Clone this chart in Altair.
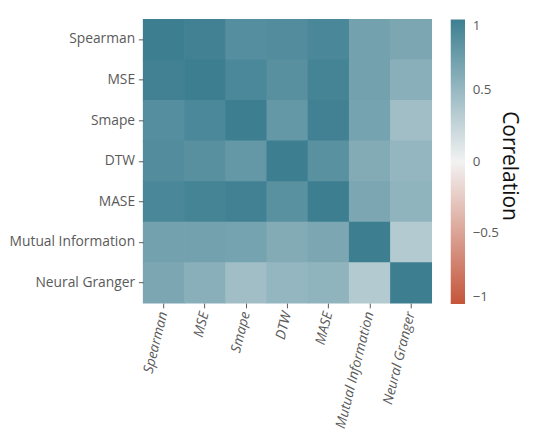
import altair as alt
import pandas as pd

metrics = ["Spearman", "MSE", "Smape", "DTW", "MASE", "Mutual Information", "Neural Granger"]
corr = [
    [1.00, 0.98, 0.87, 0.88, 0.93, 0.70, 0.66],
    [0.98, 1.00, 0.92, 0.85, 0.96, 0.70, 0.58],
    [0.87, 0.92, 1.00, 0.78, 0.98, 0.69, 0.45],
    [0.88, 0.85, 0.78, 1.00, 0.84, 0.62, 0.52],
    [0.93, 0.96, 0.98, 0.84, 1.00, 0.66, 0.54],
    [0.70, 0.70, 0.69, 0.62, 0.66, 1.00, 0.35],
    [0.66, 0.58, 0.45, 0.52, 0.54, 0.35, 1.00],
]
legend_title = "Correlation"

rows = []
for i, r in enumerate(metrics):
    for j, c in enumerate(metrics):
        rows.append({"row": r, "col": c, "value": corr[i][j]})
df = pd.DataFrame(rows)

font = "Open Sans"
lab_color = "#5a5a5a"
heat = alt.Chart(df).mark_rect(width=44.0, height=43.4).encode(
    x=alt.X("col:N", sort=metrics, title=None,
            scale=alt.Scale(type="band", paddingInner=0, paddingOuter=0),
            axis=alt.Axis(labelAngle=-76, labelFontStyle="italic", labelFontSize=14.5,
                          labelColor=lab_color, labelFont=font, domain=False, grid=False,
                          tickColor="#555555", tickSize=5, labelPadding=4)),
    y=alt.Y("row:N", sort=metrics, title=None,
            scale=alt.Scale(type="band", paddingInner=0, paddingOuter=0),
            axis=alt.Axis(labelFontSize=14.5, labelColor=lab_color, labelFont=font,
                          domain=False, grid=False, tickColor="#555555", tickSize=5,
                          labelPadding=4)),
    color=alt.Color("value:Q",
                    scale=alt.Scale(domain=[-1, 0, 1],
                                    range=["#c4553a", "#f2f2f2", "#3d7f91"],
                                    interpolate="rgb"),
                    legend=alt.Legend(title=None, gradientLength=299,
                                      gradientThickness=15, values=[-1, -0.5, 0, 0.5, 1],
                                      format="~g", labelFontSize=14, labelColor=lab_color,
                                      labelFont=font, offset=20, labelOffset=8)),
)

title_txt = alt.Chart(pd.DataFrame({"t": [legend_title]})).mark_text(
    angle=90, fontSize=22, font=font, color="#111111", align="center", baseline="middle"
).encode(x=alt.value(385), y=alt.value(154), text="t:N")

chart = alt.layer(heat, title_txt).properties(
    width=303, height=298,
    padding={"left": 1, "top": 0, "right": 5, "bottom": 5},
).configure_view(stroke=None)

chart.save("out.html", embed_options={"renderer": "svg", "actions": False})
